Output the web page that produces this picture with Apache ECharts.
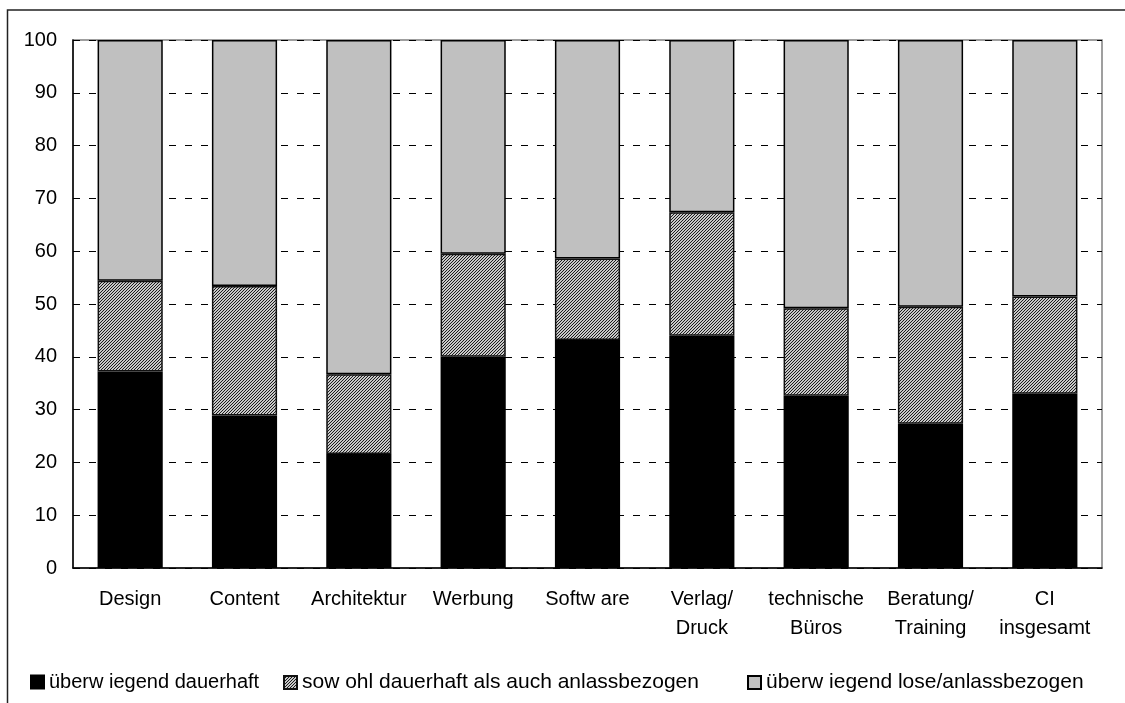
<!DOCTYPE html>
<html>
<head>
<meta charset="utf-8">
<script src="https://cdn.jsdelivr.net/npm/echarts@6/dist/echarts.min.js"></script>
<style>html,body{margin:0;padding:0;background:#fff}#c{width:1125px;height:703px}</style>
</head>
<body>
<div id="c"></div>
<script>
const categories = ['Design','Content','Architektur','Werbung','Softw are','Verlag/\nDruck','technische\nBüros','Beratung/\nTraining','CI\ninsgesamt'];
const dauerhaft = [37.2,28.9,21.6,40.0,43.2,44.0,32.6,27.3,33.0];
const sowohl    = [17.2,24.5,15.1,19.5,15.4,23.4,16.6,22.2,18.4];
const lose      = [45.6,46.6,63.3,40.5,41.4,32.6,50.8,50.5,48.6];
const seriesNames = ['überw iegend dauerhaft','sow ohl dauerhaft als auch anlassbezogen','überw iegend lose/anlassbezogen'];
const yTicks = {min:0, max:100, interval:10};

// fine diagonal hatch pattern
const pc = document.createElement('canvas');
pc.width = 3; pc.height = 3;
const g = pc.getContext('2d');
g.fillStyle = '#c8c8c8'; g.fillRect(0,0,3,3);
g.fillStyle = '#1c1c1c';
for (let i = 0; i < 3; i++) { g.fillRect(i, 2 - i, 1, 1); }

const font = '"Liberation Sans", Arial, sans-serif';
const chart = echarts.init(document.getElementById('c'), null, {renderer:'canvas'});
const mkLegend = (name, left, fs) => ({
  data:[name], left:left, top:672, padding:0, itemWidth:13, itemHeight:13, icon:'rect',
  textStyle:{fontFamily:font, fontSize:fs, color:'#000'}, selectedMode:false
});
chart.setOption({
  animation:false,
  backgroundColor:'#fff',
  graphic:[{type:'rect', shape:{x:7.5, y:10, width:1300, height:900}, style:{fill:'none', stroke:'#222', lineWidth:1.5}, silent:true}],
  grid:{left:73, right:23, top:40, bottom:135, show:true, borderColor:'#808080', borderWidth:1.5},
  legend:[mkLegend(seriesNames[0],30,20), mkLegend(seriesNames[1],283,21), mkLegend(seriesNames[2],747,21)],
  xAxis:{type:'category', data:categories,
    axisLine:{lineStyle:{color:'#000', width:1.5}}, axisTick:{show:false},
    axisLabel:{fontFamily:font, fontSize:20, color:'#000', margin:17, lineHeight:29, interval:0}},
  yAxis:{type:'value', min:yTicks.min, max:yTicks.max, interval:yTicks.interval,
    axisLine:{show:true, lineStyle:{color:'#000', width:1.5}}, axisTick:{show:false},
    axisLabel:{fontFamily:font, fontSize:20, color:'#000', margin:16},
    splitLine:{lineStyle:{color:'#000', width:1, type:[7,9]}}},
  series:[
    {name:seriesNames[0], type:'bar', stack:'a', barWidth:'57%', data:dauerhaft,
     itemStyle:{color:'#000', borderColor:'#000', borderWidth:1.5}},
    {name:seriesNames[1], type:'bar', stack:'a', barWidth:'57%', data:sowohl,
     itemStyle:{color:{image:pc, repeat:'repeat'}, borderColor:'#111', borderWidth:1.5}},
    {name:seriesNames[2], type:'bar', stack:'a', barWidth:'57%', data:lose,
     itemStyle:{color:'#c0c0c0', borderColor:'#000', borderWidth:1.5}}
  ]
});
</script>
</body>
</html>
